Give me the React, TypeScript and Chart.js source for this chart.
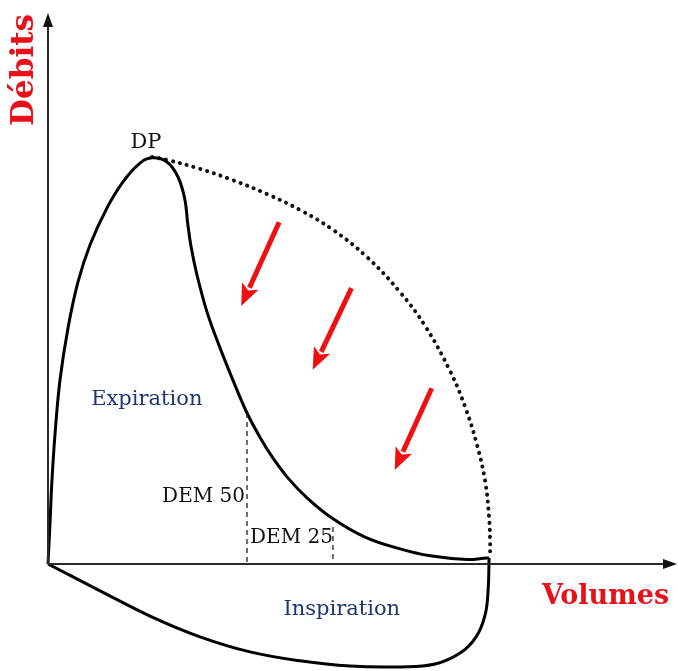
import { useEffect, useRef } from "react";
import { Chart, registerables } from "chart.js";

Chart.register(...registerables);

// Axis extents (volume in L, flow in L/s)
const volumeMax = 7.13;
const flowMax = 13.54;
const flowMin = -2.63;

// Expiratory limb of the flow-volume loop
const expVolume = [0, 0.023, 0.045, 0.079, 0.136, 0.227, 0.34, 0.476, 0.669, 0.85, 1.043, 1.179, 1.349, 1.474, 1.553, 1.582, 1.621, 1.689, 1.803, 1.95, 2.109, 2.256, 2.404, 2.551, 2.721, 2.948, 3.231, 3.594, 3.991, 4.331, 4.751, 4.943, 5.0];
const expFlow = [0, 1.03, 2.06, 3.17, 4.52, 5.8, 6.93, 7.84, 8.75, 9.39, 9.85, 9.98, 9.88, 9.51, 8.94, 8.4, 7.81, 7.1, 6.19, 5.31, 4.45, 3.71, 3.11, 2.6, 2.11, 1.6, 1.11, 0.66, 0.37, 0.2, 0.11, 0.14, 0.15];

// Inspiratory limb
const insVolume = [0, 0.59, 1.156, 1.723, 2.29, 2.857, 3.424, 3.991, 4.388, 4.671, 4.853, 4.955, 4.989, 5.0];
const insFlow = [0, -0.66, -1.28, -1.79, -2.16, -2.38, -2.51, -2.53, -2.46, -2.19, -1.79, -1.25, -0.64, 0.15];

// Normal (maximal) envelope, dotted
const envVolume = [1.179, 1.349, 1.723, 2.098, 2.483, 2.857, 3.231, 3.617, 3.991, 4.274, 4.558, 4.728, 4.864, 4.955, 5.0, 5.011, 5.011];
const envFlow = [10.0, 9.93, 9.71, 9.43, 9.09, 8.7, 8.21, 7.54, 6.68, 5.85, 4.74, 3.86, 2.92, 2.04, 1.15, 0.59, 0.15];

// DEM markers
const demLabels = ["DEM 50", "DEM 25"];
const demVolume = [2.256, 3.23];
const demFlow = [3.71, 0.91];

// Red arrows (start -> tip)
const arrowStartVolume = [2.62, 3.44, 4.35];
const arrowStartFlow = [8.4, 6.78, 4.32];
const arrowEndVolume = [2.19, 3.0, 3.93];
const arrowEndFlow = [6.34, 4.77, 2.31];

// Text annotations
const noteTexts = ["DP", "Expiration", "Inspiration"];
const noteVolume = [1.11, 1.12, 3.33];
const noteFlow = [10.22, 3.91, -1.25];

const toXY = (xs: number[], ys: number[]) => xs.map((x, i) => ({ x, y: ys[i] }));

const overlayPlugin = {
  id: "overlay",
  afterDatasetsDraw(chart: any) {
    const { ctx } = chart;
    const xs = chart.scales.x;
    const ys = chart.scales.y;
    const px = (v: number) => xs.getPixelForValue(v);
    const py = (v: number) => ys.getPixelForValue(v);
    ctx.save();

    // axes with arrowheads
    const ox = px(0), oy = py(0);
    ctx.strokeStyle = "#2a2a2a";
    ctx.fillStyle = "#111";
    ctx.lineWidth = 2;
    ctx.beginPath();
    ctx.moveTo(ox, oy);
    ctx.lineTo(ox, py(flowMax) + 10);
    ctx.moveTo(ox, oy);
    ctx.lineTo(px(volumeMax) - 10, oy);
    ctx.stroke();
    ctx.beginPath();
    ctx.moveTo(ox, py(flowMax));
    ctx.lineTo(ox - 5, py(flowMax) + 14);
    ctx.lineTo(ox + 5, py(flowMax) + 14);
    ctx.closePath();
    ctx.fill();
    ctx.beginPath();
    ctx.moveTo(px(volumeMax), oy);
    ctx.lineTo(px(volumeMax) - 14, oy - 5);
    ctx.lineTo(px(volumeMax) - 14, oy + 5);
    ctx.closePath();
    ctx.fill();

    // DEM dashed verticals
    ctx.strokeStyle = "#222";
    ctx.lineWidth = 1.3;
    ctx.setLineDash([5, 4]);
    for (let i = 0; i < demVolume.length; i++) {
      ctx.beginPath();
      ctx.moveTo(px(demVolume[i]), py(demFlow[i]));
      ctx.lineTo(px(demVolume[i]), oy);
      ctx.stroke();
    }
    ctx.setLineDash([]);

    // red arrows
    ctx.strokeStyle = "#ee1111";
    ctx.fillStyle = "#ee1111";
    ctx.lineWidth = 5;
    ctx.lineCap = "butt";
    for (let i = 0; i < arrowStartVolume.length; i++) {
      const x0 = px(arrowStartVolume[i]), y0 = py(arrowStartFlow[i]);
      const x1 = px(arrowEndVolume[i]), y1 = py(arrowEndFlow[i]);
      const a = Math.atan2(y1 - y0, x1 - x0);
      const hl = 22, hw = 9;
      const bx = x1 - hl * Math.cos(a), by = y1 - hl * Math.sin(a);
      ctx.beginPath();
      ctx.moveTo(x0, y0);
      ctx.lineTo(bx + 2 * Math.cos(a), by + 2 * Math.sin(a));
      ctx.stroke();
      ctx.beginPath();
      ctx.moveTo(x1, y1);
      ctx.lineTo(bx + hw * Math.sin(a), by - hw * Math.cos(a));
      ctx.lineTo(bx + 5 * Math.cos(a), by + 5 * Math.sin(a));
      ctx.lineTo(bx - hw * Math.sin(a), by + hw * Math.cos(a));
      ctx.closePath();
      ctx.fill();
    }

    // annotations
    ctx.textBaseline = "alphabetic";
    ctx.font = "21px 'DejaVu Serif'";
    ctx.textAlign = "center";
    ctx.fillStyle = "#111";
    ctx.fillText(noteTexts[0], px(noteVolume[0]), py(noteFlow[0]));
    ctx.fillStyle = "#1d3570";
    ctx.fillText(noteTexts[1], px(noteVolume[1]), py(noteFlow[1]));
    ctx.fillText(noteTexts[2], px(noteVolume[2]), py(noteFlow[2]));

    ctx.fillStyle = "#111";
    ctx.font = "20px 'DejaVu Serif'";
    ctx.textAlign = "right";
    ctx.fillText(demLabels[0], px(demVolume[0]) - 2, py(1.52));
    ctx.textAlign = "left";
    ctx.fillText(demLabels[1], px(demVolume[0]) + 3, py(0.52));

    // axis titles
    ctx.fillStyle = "#e8101a";
    ctx.font = "bold 27px 'DejaVu Serif'";
    ctx.textAlign = "center";
    ctx.fillText("Volumes", px(6.32), py(-0.98));
    ctx.save();
    ctx.translate(px(-0.17), py(12.14));
    ctx.rotate(-Math.PI / 2);
    ctx.font = "bold 31px 'DejaVu Serif'";
    ctx.fillText("Débits", 0, 0);
    ctx.restore();

    ctx.restore();
  },
};

export default function App() {
  const canvasRef = useRef<HTMLCanvasElement | null>(null);

  useEffect(() => {
    if (!canvasRef.current) return;
    const chart = new Chart(canvasRef.current, {
      type: "scatter",
      data: {
        datasets: [
          {
            label: "Expiration",
            data: toXY(expVolume, expFlow),
            showLine: true,
            borderColor: "#000",
            borderWidth: 3,
            pointRadius: 0,
            tension: 0.4,
            clip: false as any,
          },
          {
            label: "Inspiration",
            data: toXY(insVolume, insFlow),
            showLine: true,
            borderColor: "#000",
            borderWidth: 3,
            pointRadius: 0,
            tension: 0.4,
            clip: false as any,
          },
          {
            label: "Normal",
            data: toXY(envVolume, envFlow),
            showLine: true,
            borderColor: "#111",
            borderWidth: 4,
            borderDash: [0.1, 7],
            borderCapStyle: "round",
            pointRadius: 0,
            tension: 0.4,
            clip: false as any,
          },
        ],
      },
      options: {
        responsive: false,
        animation: false,
        devicePixelRatio: 1,
        layout: { padding: { left: 48, right: 1, top: 13, bottom: 0 } },
        plugins: { legend: { display: false }, tooltip: { enabled: false } },
        scales: {
          x: { type: "linear", min: 0, max: volumeMax, display: false },
          y: { type: "linear", min: flowMin, max: flowMax, display: false },
        },
      },
      plugins: [overlayPlugin],
    });
    return () => chart.destroy();
  }, []);

  return (
    <canvas
      ref={canvasRef}
      width={678}
      height={671}
      style={{ position: "absolute", left: 0, top: 0, display: "block", background: "#fff" }}
    />
  );
}
